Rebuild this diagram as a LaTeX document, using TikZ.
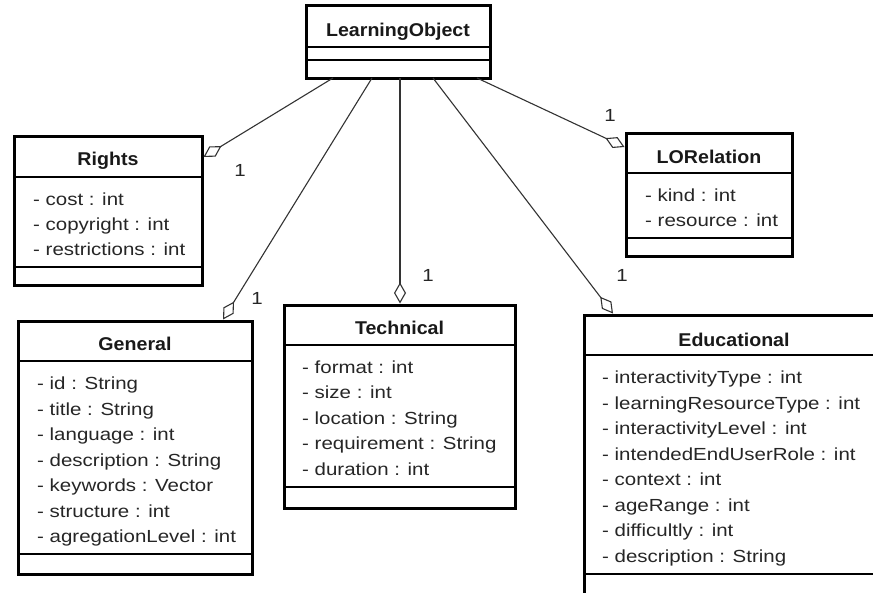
\documentclass[tikz,border=0pt]{standalone}
\usepackage{fontspec}
\setmainfont{Liberation Sans}
\newfontfamily\attrfont{Liberation Sans}[FakeStretch=1.17]
\newfontfamily\headfont{Liberation Sans}[FakeStretch=1.06]
\usetikzlibrary{arrows.meta}

\begin{document}
\begin{tikzpicture}[x=1pt, y=-1pt,
  classbox/.style={draw=black, line width=3pt, fill=white, inner sep=0pt,
                   outer sep=0pt, anchor=north west},
  divider/.style={line width=1.6pt, draw=black},
  classname/.style={font=\headfont\bfseries\fontsize{18.5}{22}\selectfont,
                    anchor=base, inner sep=0pt, text=black!90},
  attr/.style={font=\attrfont\fontsize{17.5}{21}\selectfont,
               anchor=base west, inner sep=0pt, text=black!85},
  mult/.style={font=\attrfont\fontsize{17.5}{21}\selectfont,
               inner sep=0pt, text=black!85},
  link/.style={line width=1.1pt, draw=black!80,
               -{Diamond[open, length=21pt, width=12pt, line width=1.1pt]}}
]
\useasboundingbox (0,0) rectangle (873,592);
\clip (0,0) rectangle (873,592);
\fill[white] (0,0) rectangle (873,592);

% ---- LearningObject ----
\node[classbox, minimum width=184pt, minimum height=73pt] (lo) at (306,5) {};
\draw[divider] (306,47) -- (490,47);
\draw[divider] (306,60) -- (490,60);
\node[classname] (lo-name) at (398,36) {LearningObject};

% ---- Rights ----
\node[classbox, minimum width=188pt, minimum height=149pt] (rights) at (14,136) {};
\draw[divider] (14,177) -- (202,177);
\draw[divider] (14,267) -- (202,267);
\node[classname] (rights-name) at (108,165) {Rights};
\foreach \t [count=\i] in {- cost : int, - copyright : int, - restrictions : int}
  \node[attr] (rights-a\i) at (33,{205+(\i-1)*25}) {\t};

% ---- LORelation ----
\node[classbox, minimum width=166pt, minimum height=123pt] (lorel) at (626,133) {};
\draw[divider] (626,173) -- (792,173);
\draw[divider] (626,238) -- (792,238);
\node[classname] (lorel-name) at (709,163) {LORelation};
\foreach \t [count=\i] in {- kind : int, - resource : int}
  \node[attr] (lorel-a\i) at (645,{201+(\i-1)*25.5}) {\t};

% ---- General ----
\node[classbox, minimum width=234pt, minimum height=253pt] (general) at (18,321) {};
\draw[divider] (18,361) -- (252,361);
\draw[divider] (18,554) -- (252,554);
\node[classname] (general-name) at (135,350) {General};
\foreach \t [count=\i] in {- id : String, - title : String, - language : int,
    - description : String, - keywords : Vector, - structure : int,
    - agregationLevel : int}
  \node[attr] (general-a\i) at (37,{389.5+(\i-1)*25.55}) {\t};

% ---- Technical ----
\node[classbox, minimum width=231pt, minimum height=203pt] (technical) at (284,305) {};
\draw[divider] (284,345) -- (515,345);
\draw[divider] (284,487) -- (515,487);
\node[classname] (technical-name) at (399.5,334) {Technical};
\foreach \t [count=\i] in {- format : int, - size : int, - location : String,
    - requirement : String, - duration : int}
  \node[attr] (technical-a\i) at (302,{373+(\i-1)*25.5}) {\t};

% ---- Educational ----
\node[classbox, minimum width=300pt, minimum height=300pt] (educational) at (584,315) {};
\draw[divider] (584,355) -- (884,355);
\draw[divider] (584,574) -- (884,574);
\node[classname] (educational-name) at (734,346) {Educational};
\foreach \t [count=\i] in {- interactivityType : int, - learningResourceType : int,
    - interactivityLevel : int, - intendedEndUserRole : int, - context : int,
    - ageRange : int, - difficultly : int, - description : String}
  \node[attr] (educational-a\i) at (602,{383.5+(\i-1)*25.5}) {\t};

% ---- aggregation ends ----
\coordinate (lo-p1) at (333,78);
\coordinate (lo-p2) at (372,78);
\coordinate (lo-p3) at (400,78);
\coordinate (lo-p4) at (433,78);
\coordinate (lo-p5) at (477,78);
\coordinate (rights-in)      at (203.5,157);
\coordinate (general-in)     at (223,319.5);
\coordinate (technical-in)   at (400,303.5);
\coordinate (lorel-in)       at (624.5,147);
\coordinate (educational-in) at (613,313.5);

\draw[link] (lo-p1) -- (rights-in);
\draw[link] (lo-p2) -- (general-in);
\draw[link] (lo-p3) -- (technical-in);
\draw[link] (lo-p4) -- (educational-in);
\draw[link] (lo-p5) -- (lorel-in);

% ---- multiplicities ----
\node[mult] (m-rights)      at (240,170) {1};
\node[mult] (m-general)     at (257,298) {1};
\node[mult] (m-technical)   at (428,275) {1};
\node[mult] (m-lorel)       at (610,115) {1};
\node[mult] (m-educational) at (622,275) {1};
\end{tikzpicture}
\end{document}
